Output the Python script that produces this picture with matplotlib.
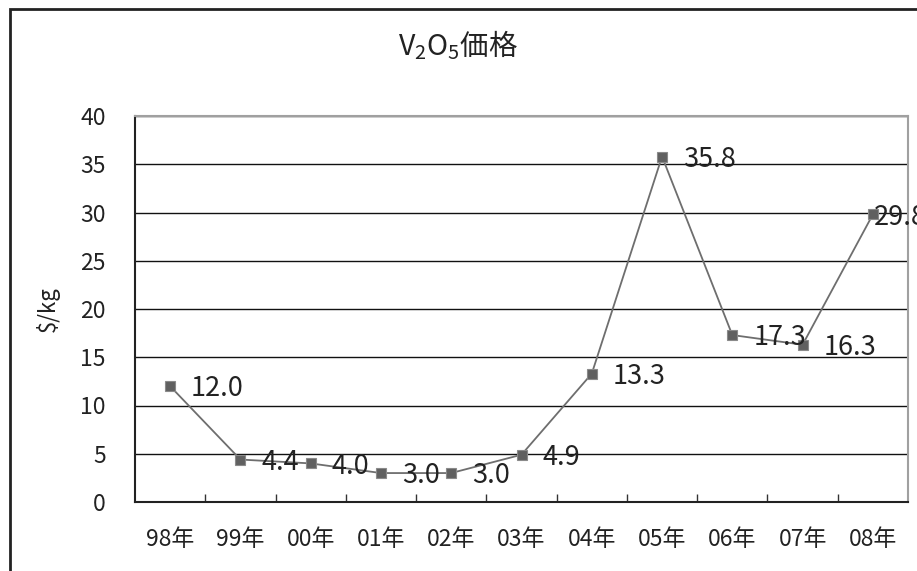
import matplotlib
matplotlib.use("Agg")
import matplotlib.pyplot as plt
from matplotlib.ticker import FixedLocator
from matplotlib.patches import Rectangle

plt.rcParams['font.family'] = ['Noto Sans CJK JP', 'DejaVu Sans']
plt.rcParams['mathtext.fontset'] = 'custom'
plt.rcParams['mathtext.rm'] = 'Noto Sans CJK JP'
plt.rcParams['mathtext.it'] = 'Noto Sans CJK JP'

categories = ["98年", "99年", "00年", "01年", "02年", "03年", "04年", "05年", "06年", "07年", "08年"]
prices = [12.0, 4.4, 4.0, 3.0, 3.0, 4.9, 13.3, 35.8, 17.3, 16.3, 29.8]
y_ticks = [0, 5, 10, 15, 20, 25, 30, 35, 40]

fig = plt.figure(figsize=(9.17, 5.71), dpi=100)
fig.patch.set_facecolor('white')

# outer chart frame
fig.patches.append(Rectangle((9.5/917, -0.1), 1.2, (571 - 8.5) / 571 + 0.1,
                             transform=fig.transFigure, fill=False,
                             edgecolor='#222222', linewidth=2.0))

ax = fig.add_axes([135/917, (571-502)/571, (908-135)/917, (502-116)/571])
x = list(range(len(categories)))
ax.plot(x, prices, color='#6e6e6e', linewidth=1.3, marker='s', markersize=7.5,
        markerfacecolor='#606060', markeredgecolor='#8a8a8a', markeredgewidth=0.8,
        zorder=3, clip_on=False)

n = len(categories)
for xi, v in zip(x, prices):
    dx = 15 if xi < n - 1 else 1
    ax.annotate(f"{v:.1f}", (xi, v), xytext=(dx, -2), textcoords='offset points',
                ha='left', va='center', fontsize=19.5, color='#222222',
                annotation_clip=False, zorder=4)

ax.set_xlim(-0.5, n - 0.5)
ax.set_ylim(0, 40)
ax.set_yticks(y_ticks)
ax.set_yticklabels([str(t) for t in y_ticks])
ax.yaxis.grid(True, color='#111111', linewidth=1.0)
ax.set_axisbelow(True)

ax.set_xticks(x)
ax.set_xticklabels(categories)
ax.xaxis.set_minor_locator(FixedLocator([i + 0.5 for i in range(n - 1)]))
ax.tick_params(axis='x', which='major', length=0, pad=19, labelsize=16.5, colors='#222222')
ax.tick_params(axis='x', which='minor', length=6, direction='in', color='#333333', width=1)
ax.tick_params(axis='y', which='major', length=0, pad=21, labelsize=16.5, colors='#222222')

for side in ['left', 'bottom']:
    ax.spines[side].set_color('#222222')
    ax.spines[side].set_linewidth(1.5)
for side in ['top', 'right']:
    ax.spines[side].set_color('#a0a0a0')
    ax.spines[side].set_linewidth(1.5)

ax.set_ylabel(r"\$/kg", fontsize=16, color='#222222')
ax.yaxis.set_label_coords((60 - 135) / 773, 0.5)

fig.text(0.5, 1 - 45/571, r"V$_2$O$_5$価格", ha='center', va='center', fontsize=20.5, color='#222222')

fig.savefig("out.png", dpi=100, facecolor='white')
